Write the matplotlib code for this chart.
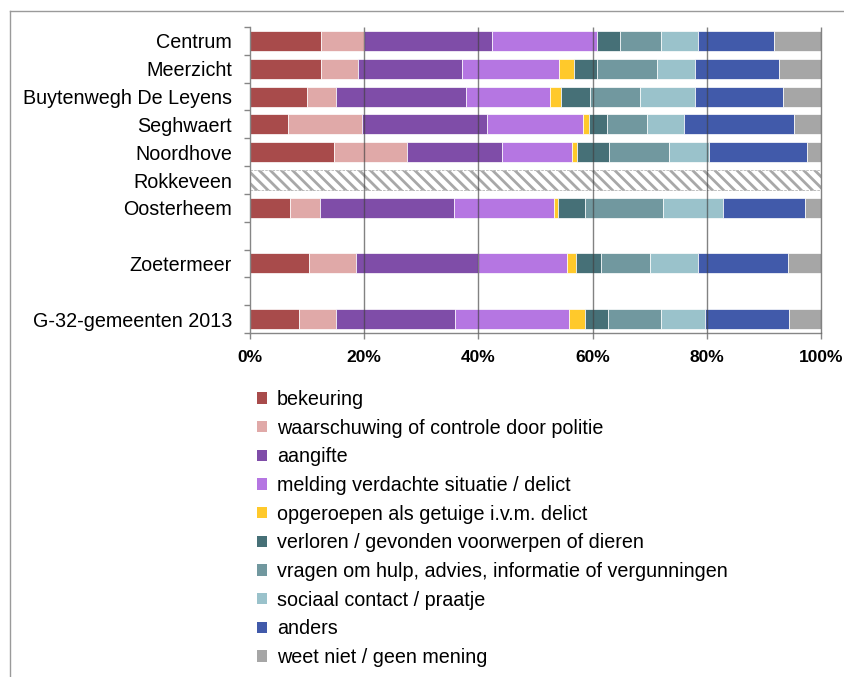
import numpy as np
import matplotlib.pyplot as plt
from matplotlib.patches import Patch
from matplotlib.lines import Line2D

plt.rcParams['font.family'] = ['Liberation Sans', 'DejaVu Sans']
plt.rcParams['hatch.linewidth'] = 2.0

# areas (top to bottom), None = empty row in the chart
areas = ['Centrum', 'Meerzicht', 'Buytenwegh De Leyens', 'Seghwaert', 'Noordhove',
         'Rokkeveen', 'Oosterheem', None, 'Zoetermeer', None, 'G-32-gemeenten 2013']

categories = ['bekeuring',
              'waarschuwing of controle door politie',
              'aangifte',
              'melding verdachte situatie / delict',
              'opgeroepen als getuige i.v.m. delict',
              'verloren / gevonden voorwerpen of dieren',
              'vragen om hulp, advies, informatie of vergunningen',
              'sociaal contact / praatje',
              'anders',
              'weet niet / geen mening']

colors = ['#A84B4B', '#E0A9A8', '#7F4DA8', '#B576E2', '#FFC92B',
          '#467077', '#71989F', '#9AC2CB', '#415AAA', '#A6A6A6']

# percentages per area, same order as categories
centrum    = [12.4, 7.5, 22.5, 18.4, 0.0, 4.0, 7.1, 6.6, 13.3, 8.2]
meerzicht  = [12.5, 6.4, 18.3, 16.9, 2.6, 4.0, 10.5, 6.8, 14.7, 7.3]
buytenwegh = [10.0, 5.1, 22.8, 14.7, 1.8, 5.2, 8.7, 9.6, 15.4, 6.7]
seghwaert  = [6.7, 12.9, 21.9, 16.9, 1.0, 3.1, 7.0, 6.5, 19.3, 4.7]
noordhove  = [14.7, 12.8, 16.6, 12.3, 0.9, 5.6, 10.5, 6.9, 17.2, 2.5]
rokkeveen  = None   # no data, hatched bar
oosterheem = [7.0, 5.3, 23.4, 17.5, 0.7, 4.8, 13.6, 10.5, 14.4, 2.8]
zoetermeer = [10.3, 8.3, 21.3, 15.6, 1.6, 4.4, 8.6, 8.4, 15.7, 5.8]
g32        = [8.6, 6.5, 20.8, 19.9, 2.8, 4.1, 9.3, 7.7, 14.7, 5.6]

rows = [centrum, meerzicht, buytenwegh, seghwaert, noordhove,
        rokkeveen, oosterheem, None, zoetermeer, None, g32]

fig = plt.figure(figsize=(8.44, 6.77), dpi=100)
ax = fig.add_axes([250/844, 1-333/677, 571/844, 306/677])

bar_h = 0.72
for i, vals in enumerate(rows):
    if areas[i] is None:
        continue
    if vals is None:
        ax.barh(i, 100, height=bar_h, left=0, facecolor='white', edgecolor='#A8A8A8',
                hatch='\\\\\\', linestyle='--', linewidth=0.5, zorder=2)
        continue
    left = 0.0
    for v, c in zip(vals, colors):
        if v > 0:
            ax.barh(i, v, height=bar_h, left=left, color=c, edgecolor='white',
                    linewidth=0.5, zorder=2)
        left += v

# gridlines on top of the bars
ax.vlines([20, 40, 60, 80, 100], -0.5, len(areas)-0.5, color='#404040', alpha=0.65,
          linewidth=1.0, zorder=4, clip_on=False)

ax.set_xlim(0, 100)
ax.set_ylim(len(areas)-0.5, -0.5)

ypos = [i for i, a in enumerate(areas) if a is not None]
ax.set_yticks(ypos)
ax.set_yticklabels([areas[i] for i in ypos], fontsize=14.2)
ax.set_yticks(np.arange(-0.5, len(areas)), minor=True)
ax.tick_params(axis='y', which='major', length=0, pad=13)
ax.tick_params(axis='y', which='minor', length=4, width=1, color='#868686')

ax.set_xticks([0, 20, 40, 60, 80, 100])
ax.set_xticklabels(['0%', '20%', '40%', '60%', '80%', '100%'], fontsize=12.5,
                   fontweight='bold')
ax.tick_params(axis='x', length=4, width=1, color='#868686', pad=8)

for s in ['top', 'right']:
    ax.spines[s].set_visible(False)
for s in ['left', 'bottom']:
    ax.spines[s].set_color('#868686')
    ax.spines[s].set_linewidth(1.0)

handles = [Patch(facecolor=c, edgecolor='none') for c in colors]
fig.legend(handles, categories, loc='upper left',
           bbox_to_anchor=(257/844, 1-390/677), frameon=False, fontsize=14.2,
           handlelength=0.5, handleheight=0.5, handletextpad=0.5,
           labelspacing=0.49, borderpad=0, borderaxespad=0)

# outer frame of the picture
fig.add_artist(Line2D([10/844, 1], [1-11/677, 1-11/677], color='#9A9A9A', linewidth=1.0))
fig.add_artist(Line2D([10/844, 10/844], [0, 1-11/677], color='#9A9A9A', linewidth=1.0))

plt.savefig('out.png', dpi=100)
